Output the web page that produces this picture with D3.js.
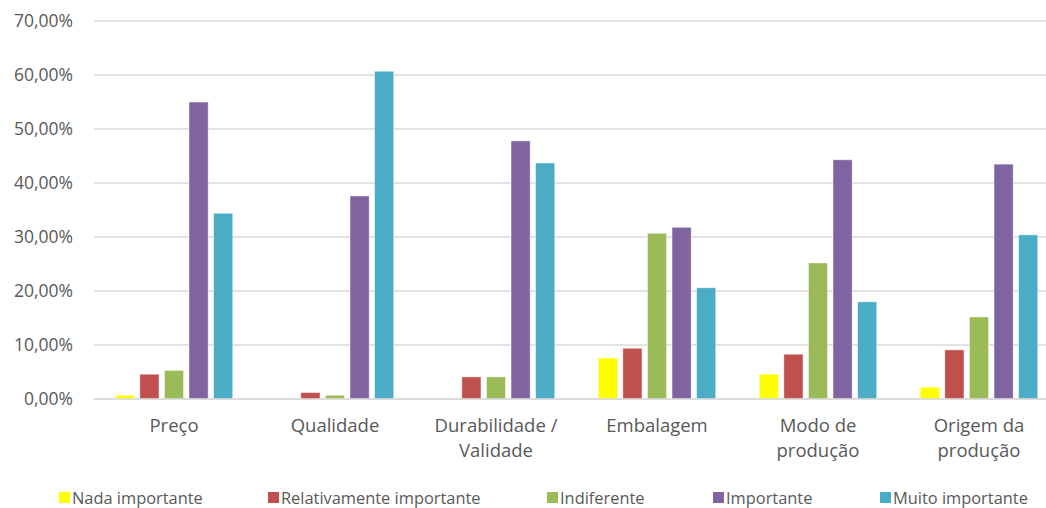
<!DOCTYPE html>
<html><head><meta charset="utf-8">
<script src="https://cdn.jsdelivr.net/npm/d3@7"></script>
<style>
html,body{margin:0;padding:0;background:#fff;}
svg{display:block;font-family:"Open Sans",sans-serif;}
</style></head><body>
<svg id="chart" width="1046" height="508"></svg>
<script>
const categories = ["Preço", "Qualidade", "Durabilidade / Validade", "Embalagem", "Modo de produção", "Origem da produção"];
const categoryLines = [["Preço"], ["Qualidade"], ["Durabilidade /", "Validade"], ["Embalagem"], ["Modo de", "produção"], ["Origem da", "produção"]];
const seriesNames = ["Nada importante", "Relativamente importante", "Indiferente", "Importante", "Muito importante"];
const nadaImportante = [0.7, 0, 0, 7.6, 4.6, 2.2];
const relativamenteImportante = [4.6, 1.2, 4.1, 9.4, 8.3, 9.1];
const indiferente = [5.3, 0.7, 4.1, 30.7, 25.2, 15.2];
const importante = [55.0, 37.6, 47.8, 31.8, 44.3, 43.5];
const muitoImportante = [34.4, 60.7, 43.7, 20.6, 18.0, 30.4];
const yTicks = [0, 10, 20, 30, 40, 50, 60, 70];
const colors = ["#FFFF00", "#C0504D", "#9BBB59", "#8064A2", "#4BACC6"];

const seriesValues = [nadaImportante, relativamenteImportante, indiferente, importante, muitoImportante];

const svg = d3.select("#chart");
const y = d3.scaleLinear().domain([0, 70]).range([399, 21]);
const x0 = d3.scaleBand().domain(categories).range([93.5, 1059.5]).paddingInner(0.27).paddingOuter(0.135);
const x1 = d3.scaleBand().domain(seriesNames).range([0, x0.bandwidth()]).paddingInner(0.22);

// y axis labels
const yAxis = d3.axisLeft(y).tickValues(yTicks).tickSize(0).tickPadding(21)
  .tickFormat(d => d.toFixed(2).replace(".", ",") + "%");
const gy = svg.append("g").attr("transform", "translate(94,0)").call(yAxis);
gy.select(".domain").remove();
gy.selectAll("text").attr("fill", "#595959").style("font-size", "17.5px").style("font-family", "'Open Sans',sans-serif");

// gridlines
svg.append("g").selectAll("line").data(yTicks).join("line")
  .attr("x1", 94).attr("x2", 1060).attr("y1", d => y(d)).attr("y2", d => y(d))
  .attr("stroke", "#d9d9d9").attr("stroke-width", 1.5);

// bars
const groups = svg.append("g").selectAll("g").data(categories).join("g")
  .attr("transform", c => `translate(${x0(c)},0)`);
groups.selectAll("rect").data((c, i) => seriesNames.map((s, j) => ({s, j, v: seriesValues[j][i]})))
  .join("rect")
  .attr("x", d => x1(d.s)).attr("width", x1.bandwidth())
  .attr("y", d => y(d.v)).attr("height", d => y(0) - y(d.v))
  .attr("fill", d => colors[d.j])
  .attr("stroke", "#ffffff").attr("stroke-opacity", 0.6).attr("stroke-width", 0.8);

// baseline
svg.append("line").attr("x1", 94).attr("x2", 1060).attr("y1", y(0)).attr("y2", y(0))
  .attr("stroke", "#d9d9d9").attr("stroke-width", 1.5);

// category labels
const xl = svg.append("g");
categories.forEach((c, i) => {
  const cx = x0(c) + x0.bandwidth() / 2;
  const t = xl.append("text").attr("x", cx).attr("y", 432)
    .attr("text-anchor", "middle").attr("fill", "#595959").style("font-size", "18.5px");
  categoryLines[i].forEach((ln, k) => {
    t.append("tspan").attr("x", cx).attr("dy", k === 0 ? 0 : 25).text(ln);
  });
});

// legend
const legendX = [59, 268, 547, 713, 880];
const lg = svg.append("g");
seriesNames.forEach((s, j) => {
  lg.append("rect").attr("x", legendX[j]).attr("y", 492).attr("width", 11).attr("height", 11).attr("fill", colors[j]);
  lg.append("text").attr("x", legendX[j] + 13).attr("y", 504).attr("fill", "#595959")
    .style("font-size", "16.4px").text(s);
});
</script>
</body></html>
